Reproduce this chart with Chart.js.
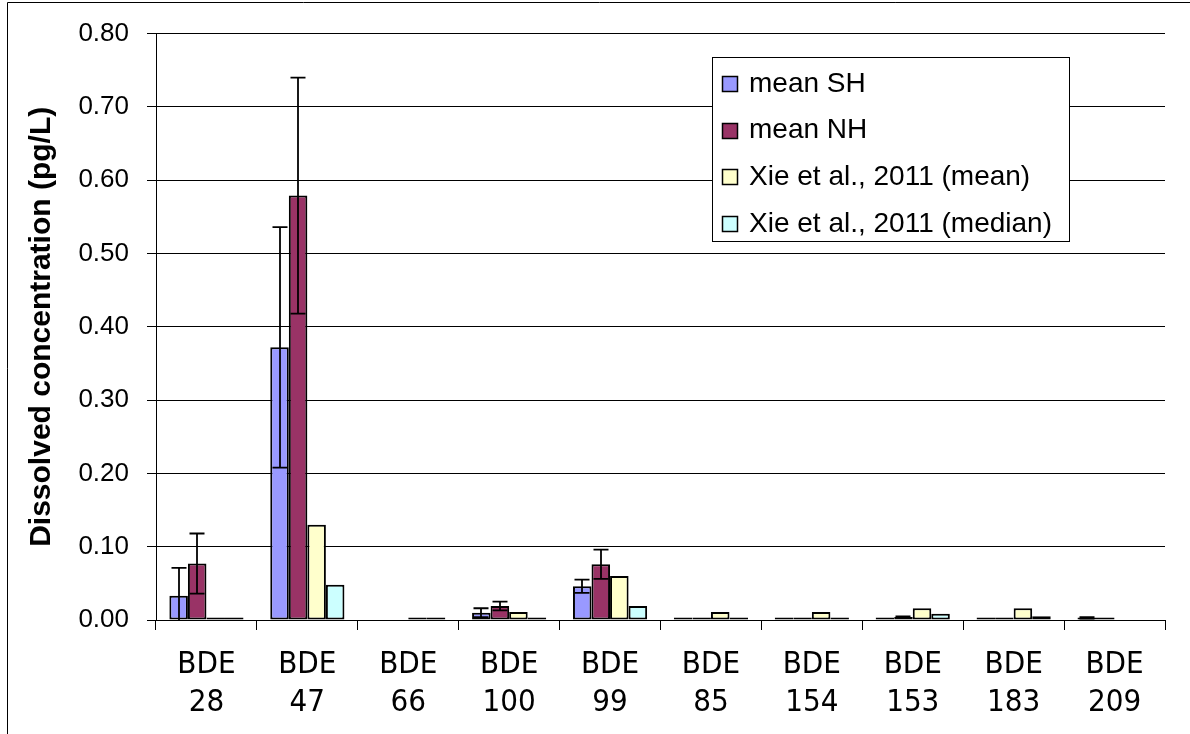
<!DOCTYPE html>
<html>
<head>
<meta charset="utf-8">
<script src="https://cdn.jsdelivr.net/npm/chart.js@4.4.1/dist/chart.umd.min.js"></script>
<style>
  html, body { margin: 0; padding: 0; background: #ffffff; }
  #wrap { width: 1190px; height: 734px; position: relative; }
</style>
</head>
<body>
<div id="wrap"><canvas id="chart" width="1190" height="734"></canvas></div>
<script>
// Congeners on the category axis (two-line labels)
const congeners = ['28', '47', '66', '100', '99', '85', '154', '153', '183', '209'];
const categoryLabels = congeners.map(c => ['BDE', c]);

// Dissolved concentrations, pg/L
const meanSH = [0.033, 0.372, null, 0.010, 0.046, 0.001, 0.0005, 0.0005, 0.0005, 0.003];
const meanNH = [0.077, 0.579, null, 0.019, 0.076, 0.002, 0.001, 0.004, 0.001, 0.001];
const xieMean = [0.003, 0.130, 0.003, 0.011, 0.060, 0.011, 0.011, 0.016, 0.016, null];
const xieMedian = [0.003, 0.048, 0.003, 0.003, 0.019, 0.003, 0.0035, 0.0085, 0.005, null];

// Symmetric error bar half-widths (same units)
const errSH = [0.038, 0.164, 0, 0.006, 0.009, 0, 0, 0, 0, 0.001];
const errNH = [0.041, 0.161, 0, 0.006, 0.020, 0, 0, 0.001, 0, 0];

// Value axis ticks
const yTicks = [0.00, 0.10, 0.20, 0.30, 0.40, 0.50, 0.60, 0.70, 0.80];

const seriesNames = ['mean SH', 'mean NH', 'Xie et al., 2011 (mean)', 'Xie et al., 2011 (median)'];
const seriesColors = ['#9999ff', '#993366', '#ffffcc', '#ccffff'];
const seriesErrors = [errSH, errNH, null, null];

const FONT = "'Liberation Sans', Arial, sans-serif";

// Pick a condensed face for the category labels if one is installed
function hasFont(name) {
  const c = document.createElement('canvas').getContext('2d');
  const probe = 'BDE 28 47 mmwwii';
  c.font = '40px monospace';
  const base = c.measureText(probe).width;
  c.font = "40px '" + name + "', monospace";
  return Math.abs(c.measureText(probe).width - base) > 0.5;
}
let catFont = { family: FONT, size: 28, lineHeight: 1.36 };
if (hasFont('Liberation Sans Narrow')) {
  catFont = { family: "'Liberation Sans Narrow', sans-serif", size: 34, lineHeight: 1.12 };
} else if (hasFont('DejaVu Sans Condensed')) {
  catFont = { family: "'DejaVu Sans Condensed', sans-serif", size: 31, lineHeight: 1.22 };
}

// White page with a thin frame on the left and top
const framePlugin = {
  id: 'frame',
  beforeDraw(chart) {
    const ctx = chart.ctx;
    ctx.save();
    ctx.fillStyle = '#ffffff';
    ctx.fillRect(0, 0, chart.width, chart.height);
    ctx.strokeStyle = '#000000';
    ctx.lineWidth = 1;
    ctx.beginPath();
    ctx.moveTo(7.5, chart.height + 2);
    ctx.lineTo(7.5, 2.5);
    ctx.lineTo(chart.width + 2, 2.5);
    ctx.stroke();
    ctx.restore();
  }
};

// Error bars with caps, positioned from the bar elements and the value scale
const errorBarPlugin = {
  id: 'errorBars',
  afterDatasetsDraw(chart) {
    const ctx = chart.ctx;
    const y = chart.scales.y;
    const area = chart.chartArea;
    ctx.save();
    ctx.beginPath();
    ctx.rect(area.left, area.top - 2, area.right - area.left, area.bottom - area.top + 2);
    ctx.clip();
    ctx.strokeStyle = '#000000';
    ctx.lineWidth = 1.8;
    chart.data.datasets.forEach((ds, i) => {
      const errs = seriesErrors[i];
      if (!errs) return;
      const meta = chart.getDatasetMeta(i);
      meta.data.forEach((bar, j) => {
        const v = ds.data[j];
        const e = errs[j];
        if (v === null || !e) return;
        const cx = Math.round(bar.x);
        const yHi = y.getPixelForValue(v + e);
        const yLo = y.getPixelForValue(v - e);
        const cap = 7.5;
        ctx.beginPath();
        ctx.moveTo(cx, yHi);
        ctx.lineTo(cx, yLo);
        ctx.moveTo(cx - cap, yHi);
        ctx.lineTo(cx + cap, yHi);
        ctx.moveTo(cx - cap, yLo);
        ctx.lineTo(cx + cap, yLo);
        ctx.stroke();
      });
    });
    ctx.restore();
  }
};

// Boxed legend inside the plot area, upper right
const boxLegendPlugin = {
  id: 'boxLegend',
  afterDraw(chart) {
    const ctx = chart.ctx;
    const box = { x: 712.5, y: 57.5, w: 357, h: 184 };
    ctx.save();
    ctx.fillStyle = '#ffffff';
    ctx.fillRect(box.x, box.y, box.w, box.h);
    ctx.strokeStyle = '#000000';
    ctx.lineWidth = 1;
    ctx.strokeRect(box.x, box.y, box.w, box.h);
    ctx.font = '28px ' + FONT;
    ctx.textBaseline = 'middle';
    ctx.textAlign = 'left';
    chart.data.datasets.forEach((ds, i) => {
      const cy = 83 + i * 46.7;
      ctx.fillStyle = ds.backgroundColor;
      ctx.fillRect(722.5, Math.round(cy - 7) + 0.5, 15, 15);
      ctx.lineWidth = 1.5;
      ctx.strokeRect(722.5, Math.round(cy - 7) + 0.5, 15, 15);
      ctx.fillStyle = '#000000';
      ctx.fillText(ds.label, 749, cy + 1);
    });
    ctx.restore();
  }
};

const datasets = [meanSH, meanNH, xieMean, xieMedian].map((d, i) => ({
  label: seriesNames[i],
  data: d,
  backgroundColor: seriesColors[i],
  borderColor: '#000000',
  borderWidth: 2,
  borderSkipped: false,
  minBarLength: 2.5,
  barPercentage: 1.0,
  categoryPercentage: 0.735
}));

new Chart(document.getElementById('chart'), {
  type: 'bar',
  data: { labels: categoryLabels, datasets },
  options: {
    responsive: false,
    animation: false,
    layout: { padding: { left: 20, right: 25, top: 31, bottom: 0 } },
    plugins: {
      legend: { display: false },
      tooltip: { enabled: false }
    },
    scales: {
      x: {
        grid: {
          offset: true,
          drawOnChartArea: false,
          drawTicks: true,
          tickLength: 10,
          color: '#000000',
          lineWidth: 1
        },
        border: { display: true, color: '#000000', width: 1 },
        ticks: {
          color: '#000000',
          font: catFont,
          padding: 16,
          maxRotation: 0,
          autoSkip: false
        },
        afterFit(scale) { scale.height = 114; }
      },
      y: {
        min: 0,
        max: 0.8,
        afterBuildTicks(scale) { scale.ticks = yTicks.map(v => ({ value: v })); },
        grid: {
          color: '#000000',
          lineWidth: 1,
          drawTicks: true,
          tickLength: 9
        },
        border: { display: true, color: '#000000', width: 1 },
        ticks: {
          color: '#000000',
          font: { family: FONT, size: 26 },
          padding: 18,
          callback: v => Number(v).toFixed(2)
        },
        title: {
          display: true,
          text: 'Dissolved concentration (pg/L)',
          color: '#000000',
          font: { family: FONT, size: 30, weight: 'bold' },
          padding: { top: 4, bottom: 0 }
        },
        afterFit(scale) { scale.width = 136; }
      }
    }
  },
  plugins: [framePlugin, errorBarPlugin, boxLegendPlugin]
});
</script>
</body>
</html>
